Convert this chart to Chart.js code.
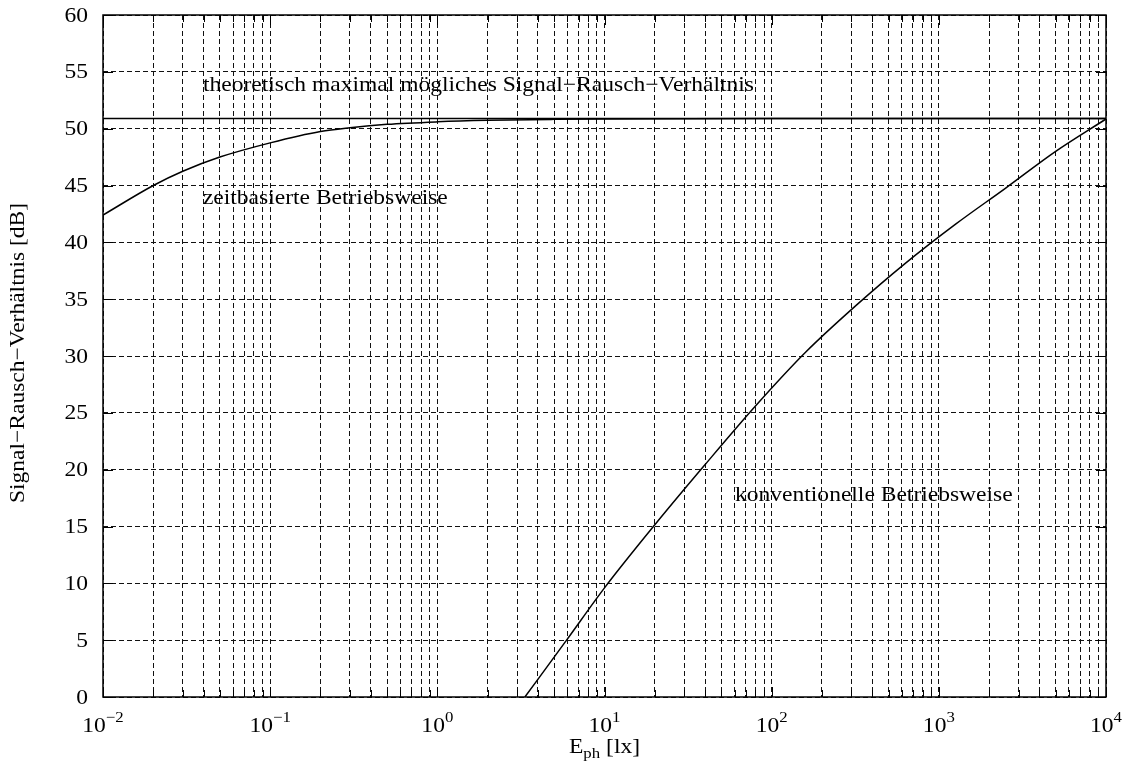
<!DOCTYPE html>
<html>
<head>
<meta charset="utf-8">
<script src="https://cdn.jsdelivr.net/npm/chart.js@4/dist/chart.umd.min.js"></script>
<style>
  body { margin: 0; background: #fff; }
  #wrap { width: 1129px; height: 774px; }
</style>
</head>
<body>
<div id="wrap"><canvas id="snr"></canvas></div>
<script>
// values (E_ph in lx, SNR in dB)
const timeBasedLux = [0.01, 0.02, 0.03, 0.05, 0.1, 0.2, 0.3, 0.5, 1, 2, 5, 10, 100, 1000, 10000];
const timeBasedSnr = [42.4, 45.0, 46.25, 47.5, 48.75, 49.75, 50.08, 50.38, 50.6, 50.73, 50.82, 50.86, 50.9, 50.9, 50.9];

const convLux = [3.34, 5.93, 10, 20, 40, 80, 160, 320, 630, 1260, 2500, 5000, 10000];
const convSnr = [0, 5, 9.6, 15.15, 20.45, 25.6, 30.35, 34.45, 38.15, 41.6, 44.75, 48.0, 50.85];

const maxLux = [0.01, 10000];
const maxSnr = [50.9, 50.9];

// axis ticks
const xTickExps = [-2, -1, 0, 1, 2, 3, 4];
const yTicks = [0, 5, 10, 15, 20, 25, 30, 35, 40, 45, 50, 55, 60];

// text in the plot
const curveLabels = ['theoretisch maximal mögliches Signal\u2212Rausch\u2212Verhältnis', 'zeitbasierte Betriebsweise', 'konventionelle Betriebsweise'];
const labelLux = [0.0396, 0.0396, 60.4];
const labelSnr = [53.84, 43.9, 17.77];

const FONT = '"Liberation Serif", "Times New Roman", serif';
const STRETCH = 1.12;   // text in the original is a bit wider than plain Times

function toPoints(xs, ys) {
    return xs.map((v, i) => ({x: v, y: ys[i]}));
}

// grid positions for the log axis: 1..9 in every decade
let xGrid = [];
for (let e = xTickExps[0]; e < xTickExps[xTickExps.length - 1]; e++) {
    for (let m = 1; m < 10; m++) {
        xGrid.push(Number((m * Math.pow(10, e)).toPrecision(3)));
    }
}
xGrid.push(Math.pow(10, xTickExps[xTickExps.length - 1]));

function textW(ctx, str) {
    return ctx.measureText(str).width * STRETCH;
}

function drawText(ctx, str, x, y) {
    ctx.save();
    ctx.translate(x, y);
    ctx.scale(STRETCH, 1);
    ctx.fillText(str, 0, 0);
    ctx.restore();
}

const decorations = {
    id: 'decorations',
    afterDraw(chart) {
        const ctx = chart.ctx;
        const a = chart.chartArea;
        const xs = chart.scales.x;
        const ys = chart.scales.y;

        ctx.save();
        ctx.strokeStyle = '#000';
        ctx.fillStyle = '#000';

        // inward tick marks on all four sides
        ctx.lineWidth = 1;
        ctx.beginPath();
        xs.ticks.forEach(t => {
            const px = Math.round(xs.getPixelForValue(t.value)) + 0.5;
            const lg = Math.log10(t.value);
            const len = Math.abs(lg - Math.round(lg)) < 1e-6 ? 10 : 7;
            ctx.moveTo(px, a.bottom); ctx.lineTo(px, a.bottom - len);
            ctx.moveTo(px, a.top); ctx.lineTo(px, a.top + len);
        });
        yTicks.forEach(v => {
            const py = Math.round(ys.getPixelForValue(v)) + 0.5;
            ctx.moveTo(a.left, py); ctx.lineTo(a.left + 10, py);
            ctx.moveTo(a.right, py); ctx.lineTo(a.right - 10, py);
        });
        ctx.stroke();

        // frame
        ctx.lineWidth = 1.5;
        ctx.strokeRect(a.left, a.top, a.right - a.left, a.bottom - a.top);

        // y tick labels
        ctx.font = '21px ' + FONT;
        ctx.textBaseline = 'middle';
        ctx.textAlign = 'left';
        yTicks.forEach(v => {
            const s = String(v);
            drawText(ctx, s, a.left - 15 - textW(ctx, s), ys.getPixelForValue(v) + 1);
        });

        // x tick labels 10^n
        ctx.textBaseline = 'alphabetic';
        xTickExps.forEach(e => {
            const px = xs.getPixelForValue(Math.pow(10, e));
            const expStr = e < 0 ? '\u2212' + Math.abs(e) : String(e);
            ctx.font = '21px ' + FONT;
            const wBase = textW(ctx, '10');
            ctx.font = '15px ' + FONT;
            const wExp = textW(ctx, expStr);
            const left = px - (wBase + wExp) / 2;
            ctx.font = '21px ' + FONT;
            drawText(ctx, '10', left, a.bottom + 35);
            ctx.font = '15px ' + FONT;
            drawText(ctx, expStr, left + wBase, a.bottom + 25);
        });

        // x axis title E_ph [lx]
        const cx = (a.left + a.right) / 2;
        ctx.font = '21px ' + FONT;
        const wE = textW(ctx, 'E');
        const wRest = textW(ctx, ' [lx]');
        ctx.font = '15px ' + FONT;
        const wSub = textW(ctx, 'ph');
        let tx = cx - (wE + wSub + wRest) / 2;
        ctx.font = '21px ' + FONT;
        drawText(ctx, 'E', tx, a.bottom + 56);
        ctx.font = '15px ' + FONT;
        drawText(ctx, 'ph', tx + wE, a.bottom + 61);
        ctx.font = '21px ' + FONT;
        drawText(ctx, ' [lx]', tx + wE + wSub, a.bottom + 56);

        // y axis title
        ctx.save();
        ctx.translate(18, (a.top + a.bottom) / 2 - 3);
        ctx.rotate(-Math.PI / 2);
        ctx.textAlign = 'left';
        ctx.textBaseline = 'middle';
        const yTitle = 'Signal\u2212Rausch\u2212Verhältnis [dB]';
        drawText(ctx, yTitle, -textW(ctx, yTitle) / 2, 0);
        ctx.restore();

        // curve labels
        ctx.font = '21px ' + FONT;
        ctx.textBaseline = 'middle';
        curveLabels.forEach((s, i) => {
            drawText(ctx, s, xs.getPixelForValue(labelLux[i]), ys.getPixelForValue(labelSnr[i]));
        });

        ctx.restore();
    }
};

const lineStyle = {
    borderColor: '#000',
    borderWidth: 1.5,
    pointRadius: 0,
    fill: false,
    cubicInterpolationMode: 'monotone'
};

new Chart(document.getElementById('snr'), {
    type: 'line',
    data: {
        datasets: [
            Object.assign({label: 'max', data: toPoints(maxLux, maxSnr)}, lineStyle),
            Object.assign({label: 'zeitbasiert', data: toPoints(timeBasedLux, timeBasedSnr)}, lineStyle),
            Object.assign({label: 'konventionell', data: toPoints(convLux, convSnr)}, lineStyle)
        ]
    },
    options: {
        responsive: true,
        maintainAspectRatio: false,
        animation: false,
        layout: {padding: {left: 103, right: 23, top: 15, bottom: 77}},
        plugins: {legend: {display: false}, tooltip: {enabled: false}},
        scales: {
            x: {
                type: 'logarithmic',
                min: 0.01,
                max: 10000,
                afterBuildTicks: scale => {
                    scale.ticks = xGrid.map(v => ({value: v}));
                },
                ticks: {display: false},
                grid: {color: '#111', lineWidth: 1, drawTicks: false},
                border: {display: false, dash: [5, 3]}
            },
            y: {
                min: 0,
                max: 60,
                afterBuildTicks: scale => {
                    scale.ticks = yTicks.map(v => ({value: v}));
                },
                ticks: {display: false},
                grid: {color: '#111', lineWidth: 1, drawTicks: false},
                border: {display: false, dash: [5, 3]}
            }
        }
    },
    plugins: [decorations]
});
</script>
</body>
</html>
